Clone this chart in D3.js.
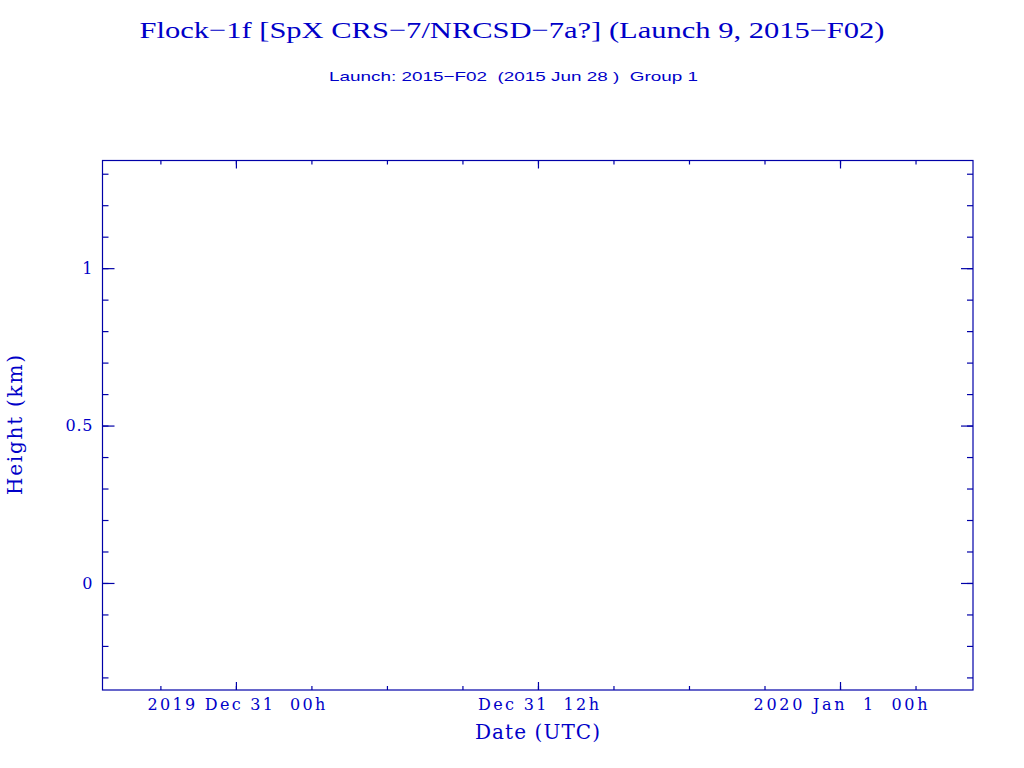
<!DOCTYPE html>
<html><head><meta charset="utf-8">
<script src="https://cdn.jsdelivr.net/npm/d3@7"></script>
<style>
body{margin:0;background:#fff;}
svg text{white-space:pre;}
</style></head>
<body><svg id="c" width="1024" height="768"></svg>
<script>
// ---- data ----
const titleText = "Flock\u22121f [SpX CRS\u22127/NRCSD\u22127a?] (Launch 9, 2015\u2212F02)";
const subtitleText = "Launch: 2015\u2212F02  (2015 Jun 28 )  Group 1";
const xLabel = "Date (UTC)";
const yLabel = "Height (km)";
const xDomain = ["2019-12-30T18:42:00Z", "2020-01-01T05:17:00Z"];
const yDomain = [-0.34, 1.342];
const xMajorTicks = ["2019-12-31T00:00:00Z", "2019-12-31T12:00:00Z", "2020-01-01T00:00:00Z"];
const xMajorLabels = ["2019 Dec 31  00h", "Dec 31  12h", "2020 Jan  1  00h"];
const yMajorTicks = [0, 0.5, 1];
const yMajorLabels = ["0", "0.5", "1"];
const seriesDates = [];   // no data points in this plot
const seriesHeights = [];

// ---- layout / styling ----
const xLabelWidths = [178, 121, 174];
const yLabelWidths = [10, 27, 8];

const svg = d3.select("#c");
const L = 102.5, R = 973, T = 160.5, B = 690;
const col = "#0000a8", tcol = "#0000c8";
const x = d3.scaleUtc().domain(xDomain.map(d => new Date(d))).range([L, R]);
const y = d3.scaleLinear().domain(yDomain).range([B, T]);

const tserif = "'Liberation Serif','DejaVu Serif',serif";
const wserif = "'DejaVu Serif','Liberation Serif',serif";

svg.append("text").attr("x", 512).attr("y", 38).attr("text-anchor", "middle")
  .attr("font-family", tserif).attr("font-size", 24).attr("fill", tcol)
  .attr("textLength", 745).attr("lengthAdjust", "spacingAndGlyphs").text(titleText);
svg.append("text").attr("x", 513.5).attr("y", 81).attr("text-anchor", "middle")
  .attr("font-family", "'Liberation Sans Narrow','Liberation Sans',sans-serif").attr("font-size", 13).attr("fill", tcol)
  .attr("textLength", 369).attr("lengthAdjust", "spacingAndGlyphs").text(subtitleText);

const xMinor = d3.utcHour.every(3).range(x.domain()[0], x.domain()[1]);
const yMinor = d3.range(-3, 14).map(i => i / 10).filter(v => v >= yDomain[0] && v <= yDomain[1]);

function styleAxis(g){
  g.select(".domain").remove();
  g.selectAll("line").attr("stroke", col).attr("stroke-width", 1.2);
  g.selectAll("text").attr("fill", tcol).attr("font-family", wserif).attr("font-size", 16);
}
// bottom
svg.append("g").attr("transform", `translate(0,${B})`)
  .call(d3.axisBottom(x).tickValues(xMinor).tickSize(-4).tickFormat("")).call(styleAxis);
svg.append("g").attr("transform", `translate(0,${B})`)
  .call(d3.axisBottom(x).tickValues(xMajorTicks.map(d => new Date(d))).tickSize(-8).tickPadding(9)
    .tickFormat((d, i) => xMajorLabels[i])).call(styleAxis)
  .selectAll("text").attr("textLength", (d, i) => xLabelWidths[i]).attr("lengthAdjust", "spacing");
// top
svg.append("g").attr("transform", `translate(0,${T})`)
  .call(d3.axisTop(x).tickValues(xMinor).tickSize(-4).tickFormat("")).call(styleAxis);
svg.append("g").attr("transform", `translate(0,${T})`)
  .call(d3.axisTop(x).tickValues(xMajorTicks.map(d => new Date(d))).tickSize(-8).tickFormat("")).call(styleAxis);
// left
svg.append("g").attr("transform", `translate(${L},0)`)
  .call(d3.axisLeft(y).tickValues(yMinor).tickSize(-6).tickFormat("")).call(styleAxis);
svg.append("g").attr("transform", `translate(${L},0)`)
  .call(d3.axisLeft(y).tickValues(yMajorTicks).tickSize(-12).tickPadding(10)
    .tickFormat((d, i) => yMajorLabels[i])).call(styleAxis)
  .selectAll("text").attr("textLength", (d, i) => yLabelWidths[i]).attr("lengthAdjust", "spacing");
// right
svg.append("g").attr("transform", `translate(${R},0)`)
  .call(d3.axisRight(y).tickValues(yMinor).tickSize(-6).tickFormat("")).call(styleAxis);
svg.append("g").attr("transform", `translate(${R},0)`)
  .call(d3.axisRight(y).tickValues(yMajorTicks).tickSize(-12).tickFormat("")).call(styleAxis);

// frame
svg.append("rect").attr("x", L).attr("y", T).attr("width", R - L).attr("height", B - T)
  .attr("fill", "none").attr("stroke", col).attr("stroke-width", 1.2);

// data (empty)
svg.append("g").selectAll("circle").data(seriesDates.map((d, i) => [new Date(d), seriesHeights[i]]))
  .join("circle").attr("cx", d => x(d[0])).attr("cy", d => y(d[1])).attr("r", 2).attr("fill", col);

// axis titles
svg.append("text").attr("x", 537.5).attr("y", 739).attr("text-anchor", "middle")
  .attr("font-family", wserif).attr("font-size", 20).attr("fill", tcol)
  .attr("textLength", 125).attr("lengthAdjust", "spacing").text(xLabel);
svg.append("text").attr("transform", "translate(22,425) rotate(-90)").attr("text-anchor", "middle")
  .attr("font-family", wserif).attr("font-size", 20).attr("fill", tcol)
  .attr("textLength", 140).attr("lengthAdjust", "spacing").text(yLabel);
</script></body></html>
